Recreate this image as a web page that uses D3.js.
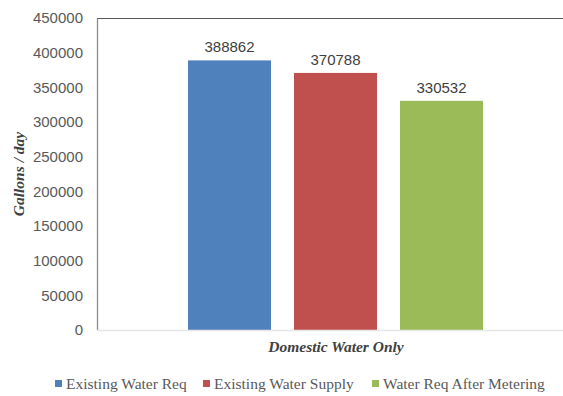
<!DOCTYPE html>
<html><head><meta charset="utf-8">
<script src="https://cdn.jsdelivr.net/npm/d3@7/dist/d3.min.js"></script>
<style>body{margin:0;background:#fff}</style>
</head><body>
<svg id="c" width="563" height="396"></svg>
<script>
const categories = ["Domestic Water Only"];
const seriesNames = ["Existing Water Req", "Existing Water Supply", "Water Req After Metering"];
const seriesValues = [388862, 370788, 330532];
const colors = ["#4f81bd", "#c0504d", "#9bbb59"];
const yTicks = [0, 50000, 100000, 150000, 200000, 250000, 300000, 350000, 400000, 450000];

const SANS = "Arial, 'Liberation Sans', sans-serif";
const SERIF = "'Liberation Serif', 'Times New Roman', serif";

const svg = d3.select("#c");
const L = 97, R = 563, T = 18, B = 330;
const y = d3.scaleLinear().domain([0, 450000]).range([B, T]);
const x0 = d3.scaleBand().domain(categories).range([L, R]);
const x1 = d3.scaleBand().domain(seriesNames).range([188, 483]).paddingInner(0.217);

// top border
svg.append("line").attr("x1", L).attr("x2", R).attr("y1", T + 0.5).attr("y2", T + 0.5)
  .attr("stroke", "#595959").attr("stroke-width", 1);

// bars
const g = svg.append("g");
seriesNames.forEach((s, i) => {
  g.append("rect").attr("x", x1(s)).attr("y", y(seriesValues[i]))
    .attr("width", x1.bandwidth()).attr("height", B - y(seriesValues[i]))
    .attr("fill", colors[i]);
  g.append("text").attr("x", x1(s) + x1.bandwidth() / 2).attr("y", y(seriesValues[i]) - 8)
    .attr("text-anchor", "middle").style("font-family", SANS)
    .style("font-size", "15px").attr("fill", "#404040").text(seriesValues[i]);
});

// y axis
const ya = svg.append("g").attr("transform", `translate(${L},0)`)
  .call(d3.axisLeft(y).tickValues(yTicks).tickSize(0).tickPadding(14).tickFormat(d => d));
ya.select(".domain").attr("stroke", "#8c8c8c").attr("stroke-width", 1.3);
ya.selectAll("text").style("font-family", SANS)
  .style("font-size", "15px").attr("fill", "#595959");

// x axis baseline
svg.append("line").attr("x1", L).attr("x2", R).attr("y1", B + 0.5).attr("y2", B + 0.5)
  .attr("stroke", "#e6e6e6").attr("stroke-width", 1.5);

// axis titles
svg.append("text").attr("transform", `translate(24,${(T + B) / 2}) rotate(-90)`)
  .attr("text-anchor", "middle").style("font-family", SERIF)
  .style("font-weight", "bold").style("font-style", "italic").style("font-size", "15.5px")
  .attr("fill", "#404040").text("Gallons / day");
svg.append("text").attr("x", 336).attr("y", 352)
  .attr("text-anchor", "middle").style("font-family", SERIF)
  .style("font-weight", "bold").style("font-style", "italic").style("font-size", "15.5px")
  .attr("fill", "#404040").text(categories[0]);

// legend
const legX = [55, 203, 372];
seriesNames.forEach((s, i) => {
  svg.append("rect").attr("x", legX[i]).attr("y", 380).attr("width", 7).attr("height", 7).attr("fill", colors[i]);
  svg.append("text").attr("x", legX[i] + 11).attr("y", 389)
    .style("font-family", SERIF).style("font-size", "15.5px")
    .attr("fill", "#595959").text(s);
});
</script>
</body></html>
